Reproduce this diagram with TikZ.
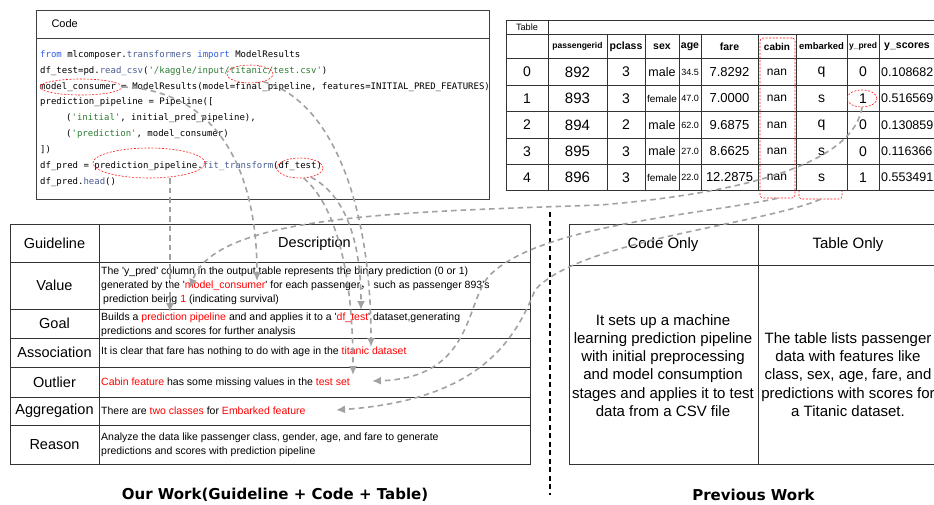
\documentclass[tikz,border=0pt]{standalone}
\usepackage{fontspec}
\setmainfont{Liberation Sans}
\setmonofont{DejaVu Sans Mono}
\newfontfamily\capfont{DejaVu Sans}
\newfontfamily\cjk{Noto Sans CJK SC}
\usepackage{tikz}
\usetikzlibrary{arrows.meta,shapes}
\definecolor{linkgray}{HTML}{A2A2A2}
\definecolor{kwblue}{HTML}{2F5BEA}
\definecolor{fnblue}{HTML}{4A5C93}
\definecolor{strgreen}{HTML}{2E7D32}
\newcommand\sqt{\textquotesingle}
\tikzstyle{hilite}=[ellipse,draw=red!90,dash pattern=on 2pt off 1.5pt,line width=0.6pt,inner sep=0pt]
\tikzstyle{hibox}=[rectangle,rounded corners=3pt,draw=red!90,dash pattern=on 2pt off 1.5pt,line width=0.6pt,inner sep=0pt]
\tikzstyle{tabline}=[draw=black!80,line width=0.9pt]
\tikzstyle{lbl}=[inner sep=0pt,font=\fontsize{14.5}{17}\selectfont]
\tikzstyle{desc}=[anchor=west,align=left,inner sep=0pt,font=\fontsize{10.5}{14.2}\selectfont]
\tikzstyle{cell}=[inner sep=0pt,font=\fontsize{14}{14}\selectfont]
\tikzstyle{hcell}=[inner sep=0pt,font=\bfseries\fontsize{10.5}{10.5}\selectfont]
\tikzstyle{edge} = [draw=linkgray,line width=1.6pt,dash pattern=on 5.5pt off 4pt,-{Latex[length=9pt,width=8pt]}]

\begin{document}
\begin{tikzpicture}[x=1pt,y=-1pt]
\useasboundingbox (0,0) rectangle (934,504);
% code box
\draw[tabline,draw=black!75] (36,10) rectangle (489,199);
\draw[tabline,draw=black!75] (36,38) -- (489,38);
\node[anchor=west,font=\fontsize{11}{11}\selectfont] (codehead) at (48,24) {Code};
\node[anchor=west,align=left,inner sep=0pt,font=\ttfamily\fontsize{9}{15.9}\selectfont] (code) at (40,118.5) {%
\textcolor{kwblue}{from} mlcomposer.\textcolor{fnblue}{transformers} \textcolor{kwblue}{import} ModelResults\\
df\_test=pd.\textcolor{fnblue}{read\_csv}(\textcolor{strgreen}{'/kaggle/input/titanic/test.csv'})\\
model\_consumer = ModelResults(model=final\_pipeline, features=INITIAL\_PRED\_FEATURES)\\
prediction\_pipeline = Pipeline([\\
\hspace*{26pt}(\textcolor{strgreen}{'initial'}, initial\_pred\_pipeline),\\
\hspace*{26pt}(\textcolor{strgreen}{'prediction'}, model\_consumer)\\
])\\
df\_pred = prediction\_pipeline.\textcolor{fnblue}{fit\_transform}(df\_test)\\
df\_pred.\textcolor{fnblue}{head}()};
\node[hilite,minimum width=46,minimum height=18] (tit) at (250,74) {};
\node[hilite,minimum width=82,minimum height=16] (mc) at (81,87) {};
\node[hilite,minimum width=112,minimum height=30] (pp) at (149,163) {};
\node[hilite,minimum width=46,minimum height=20] (dft) at (300,168) {};

% result table
\node[hibox,minimum width=43,minimum height=159] (embbox) at (820.5,119.5) {};
\fill[white] (506,20) rectangle (945,190);
\draw[tabline] (506,20) rectangle (945,190);
\draw[tabline] (506,34) -- (945,34);
\draw[tabline] (506,58) -- (945,58);
\draw[tabline] (506,85) -- (945,85);
\draw[tabline] (506,111) -- (945,111);
\draw[tabline] (506,138) -- (945,138);
\draw[tabline] (506,164) -- (945,164);
\draw[tabline] (548,20) -- (548,190);
\draw[tabline] (607,34) -- (607,190);
\draw[tabline] (645,34) -- (645,190);
\draw[tabline] (679,34) -- (679,190);
\draw[tabline] (701,34) -- (701,190);
\draw[tabline] (758,34) -- (758,190);
\draw[tabline] (796,34) -- (796,190);
\draw[tabline] (847,34) -- (847,190);
\draw[tabline] (879,34) -- (879,190);
\node[inner sep=0pt,font=\fontsize{9.2}{9.2}\selectfont] (tabhead) at (527,27.5) {Table};
\node[hcell,font=\bfseries\fontsize{8.5}{8.5}\selectfont] (hpid) at (577.5,46.5) {passengerid};
\node[hcell] (hpcl) at (626,46.5) {pclass};
\node[hcell] (hsex) at (662,46.5) {sex};
\node[hcell] (hage) at (690,46.5) {age};
\node[hcell] (hfare) at (729.5,46.5) {fare};
\node[hcell,font=\bfseries\fontsize{10}{10}\selectfont] (hcab) at (777,46.5) {cabin};
\node[hcell,font=\bfseries\fontsize{9.5}{9.5}\selectfont] (hemb) at (821.5,46.5) {embarked};
\node[hcell,font=\bfseries\fontsize{8.5}{8.5}\selectfont] (hypr) at (863,46.5) {y\_pred};
\node[hcell] (hysc) at (907,46.5) {y\_scores};
% row 0
\node[cell] (idx0) at (527,72) {0};
\node[cell,font=\fontsize{15}{15}\selectfont] (pid0) at (577.5,72) {892};
\node[cell] (pcl0) at (626,72) {3};
\node[cell,font=\fontsize{12.5}{12.5}\selectfont] (sex0) at (662,72) {male};
\node[cell,font=\fontsize{9}{9}\selectfont] (age0) at (690,72) {34.5};
\node[cell,font=\fontsize{13}{13}\selectfont] (fare0) at (729.5,72) {7.8292};
\node[cell,font=\fontsize{12}{12}\selectfont] (cabin0) at (777,72) {nan};
\node[cell] (embk0) at (821.5,72) {q};
\node[cell] (ypr0) at (863,72) {0};
\node[cell,anchor=west,font=\fontsize{12.5}{12.5}\selectfont] (ysc0) at (881,72) {0.108682};
% row 1
\node[cell] (idx1) at (527,98.5) {1};
\node[cell,font=\fontsize{15}{15}\selectfont] (pid1) at (577.5,98.5) {893};
\node[cell] (pcl1) at (626,98.5) {3};
\node[cell,font=\fontsize{10}{10}\selectfont] (sex1) at (662,98.5) {female};
\node[cell,font=\fontsize{9}{9}\selectfont] (age1) at (690,98.5) {47.0};
\node[cell,font=\fontsize{13}{13}\selectfont] (fare1) at (729.5,98.5) {7.0000};
\node[cell,font=\fontsize{12}{12}\selectfont] (cabin1) at (777,98.5) {nan};
\node[cell] (embk1) at (821.5,98.5) {s};
\node[cell] (ypr1) at (863,98.5) {1};
\node[cell,anchor=west,font=\fontsize{12.5}{12.5}\selectfont] (ysc1) at (881,98.5) {0.516569};
% row 2
\node[cell] (idx2) at (527,125) {2};
\node[cell,font=\fontsize{15}{15}\selectfont] (pid2) at (577.5,125) {894};
\node[cell] (pcl2) at (626,125) {2};
\node[cell,font=\fontsize{12.5}{12.5}\selectfont] (sex2) at (662,125) {male};
\node[cell,font=\fontsize{9}{9}\selectfont] (age2) at (690,125) {62.0};
\node[cell,font=\fontsize{13}{13}\selectfont] (fare2) at (729.5,125) {9.6875};
\node[cell,font=\fontsize{12}{12}\selectfont] (cabin2) at (777,125) {nan};
\node[cell] (embk2) at (821.5,125) {q};
\node[cell] (ypr2) at (863,125) {0};
\node[cell,anchor=west,font=\fontsize{12.5}{12.5}\selectfont] (ysc2) at (881,125) {0.130859};
% row 3
\node[cell] (idx3) at (527,151.5) {3};
\node[cell,font=\fontsize{15}{15}\selectfont] (pid3) at (577.5,151.5) {895};
\node[cell] (pcl3) at (626,151.5) {3};
\node[cell,font=\fontsize{12.5}{12.5}\selectfont] (sex3) at (662,151.5) {male};
\node[cell,font=\fontsize{9}{9}\selectfont] (age3) at (690,151.5) {27.0};
\node[cell,font=\fontsize{13}{13}\selectfont] (fare3) at (729.5,151.5) {8.6625};
\node[cell,font=\fontsize{12}{12}\selectfont] (cabin3) at (777,151.5) {nan};
\node[cell] (embk3) at (821.5,151.5) {s};
\node[cell] (ypr3) at (863,151.5) {0};
\node[cell,anchor=west,font=\fontsize{12.5}{12.5}\selectfont] (ysc3) at (881,151.5) {0.116366};
% row 4
\node[cell] (idx4) at (527,177.5) {4};
\node[cell,font=\fontsize{15}{15}\selectfont] (pid4) at (577.5,177.5) {896};
\node[cell] (pcl4) at (626,177.5) {3};
\node[cell,font=\fontsize{10}{10}\selectfont] (sex4) at (662,177.5) {female};
\node[cell,font=\fontsize{9}{9}\selectfont] (age4) at (690,177.5) {22.0};
\node[cell,font=\fontsize{13}{13}\selectfont] (fare4) at (729.5,177.5) {12.2875};
\node[cell,font=\fontsize{12}{12}\selectfont] (cabin4) at (777,177.5) {nan};
\node[cell] (embk4) at (821.5,177.5) {s};
\node[cell] (ypr4) at (863,177.5) {1};
\node[cell,anchor=west,font=\fontsize{12.5}{12.5}\selectfont] (ysc4) at (881,177.5) {0.553491};
\node[hibox,minimum width=35,minimum height=160] (cabinbox) at (777.5,118) {};
\node[hilite,minimum width=30,minimum height=17] (ypred1) at (862,98.5) {};

% guideline table
\draw[tabline] (10,224) rectangle (530,464);
\draw[tabline] (10,262) -- (530,262);
\draw[tabline] (10,309) -- (530,309);
\draw[tabline] (10,338) -- (530,338);
\draw[tabline] (10,367) -- (530,367);
\draw[tabline] (10,397) -- (530,397);
\draw[tabline] (10,425) -- (530,425);
\draw[tabline] (99,224) -- (99,464);
\node[lbl] (gl) at (54.5,243.5) {Guideline};
\node[lbl] (dhead) at (314.5,243.5) {Description};
\node[lbl] (val) at (54.5,285.5) {Value};
\node[lbl] (goal) at (54.5,323.5) {Goal};
\node[lbl] (assoc) at (54.5,352) {Association};
\node[lbl] (outl) at (54.5,382.5) {Outlier};
\node[lbl] (aggr) at (54.5,411) {Aggregation};
\node[lbl] (reas) at (54.5,445) {Reason};
\node[desc] (dval) at (101,285.5) {The \sqt y\_pred\sqt{} column in the output table represents the binary prediction (0 or 1)\\
generated by the \sqt\textcolor{red}{model\_consumer}\sqt{} for each passenger{\cjk ，}\ such as passenger 893\sqt s\\
\hspace*{2pt}prediction being \textcolor{red}{1} (indicating survival)};
\node[desc] (dgoal) at (101,325) {Builds a \textcolor{red}{prediction pipeline} and and applies it to a \sqt\textcolor{red}{df\_test}\sqt{} dataset,generating\\
predictions and scores for further analysis};
\node[desc] (dassoc) at (101,351.5) {It is clear that fare has nothing to do with age in the \textcolor{red}{titanic dataset}};
\node[desc] (doutl) at (101,382.5) {\textcolor{red}{Cabin feature} has some missing values in the \textcolor{red}{test set}};
\node[desc] (daggr) at (101,411) {There are \textcolor{red}{two classes} for \textcolor{red}{Embarked feature}};
\node[desc] (dreas) at (101,445) {Analyze the data like passenger class, gender, age, and fare to generate\\
predictions and scores with prediction pipeline};

% previous work table
\draw[tabline] (569,224) rectangle (945,464);
\draw[tabline] (569,265) -- (945,265);
\draw[tabline] (758,224) -- (758,464);
\node[inner sep=0pt,font=\fontsize{15}{15}\selectfont] (conly) at (663,245) {Code Only};
\node[inner sep=0pt,font=\fontsize{15}{15}\selectfont] (tonly) at (848,245) {Table Only};
\node[inner sep=0pt,align=center,font=\fontsize{15}{18.2}\selectfont] (cbody) at (663,365.5) {It sets up a machine\\learning prediction pipeline\\with initial preprocessing\\and model consumption\\stages and applies it to test\\data from a CSV file};
\node[inner sep=0pt,align=center,font=\fontsize{15}{18.2}\selectfont] (tbody) at (848,374.5) {The table lists passenger\\data with features like\\class, sex, age, fare, and\\predictions with scores for\\a Titanic dataset.};

% separator and captions
\draw[black,line width=1.8pt,dash pattern=on 5pt off 3.5pt] (550,212) -- (550,495);
\node[inner sep=0pt,font=\capfont\bfseries\fontsize{15}{15}\selectfont] (ourwork) at (275,495) {Our Work(Guideline + Code + Table)};
\node[inner sep=0pt,font=\capfont\bfseries\fontsize{15}{15}\selectfont] (prevwork) at (753.5,495) {Previous Work};

% links
\coordinate (gPipe) at (170,312);
\coordinate (gMc) at (257,281);
\coordinate (gDft) at (361,310);
\coordinate (gTit) at (371,347);
\coordinate (gTest) at (353,375);
\coordinate (gTestR) at (372,381);
\coordinate (gEmb) at (336,410);
\coordinate (gYp) at (190,288);
\draw[edge] (pp.south -| gPipe) -- (gPipe);
\draw[edge] (mc.east) .. controls (210,90) and (257,160) .. (gMc);
\draw[edge] (tit.-30) .. controls (330,100) and (371,200) .. (gTit);
\draw[edge] (dft.-40) .. controls (345,195) and (361,240) .. (gDft);
\draw[edge] (dft.-70) .. controls (335,205) and (353,270) .. (gTest);
\draw[edge] (ypred1.south) .. controls (852,170) and (720,195) .. (600,205) .. controls (400,212) and (215,215) .. (gYp);
\draw[edge] (cabinbox.south) .. controls (700,215) and (540,225) .. (490,275) .. controls (465,300) and (475,378) .. (gTestR);
\draw[edge] (embbox.south) .. controls (760,225) and (580,240) .. (535,290) .. controls (515,340) and (480,400) .. (gEmb);
\end{tikzpicture}
\end{document}
